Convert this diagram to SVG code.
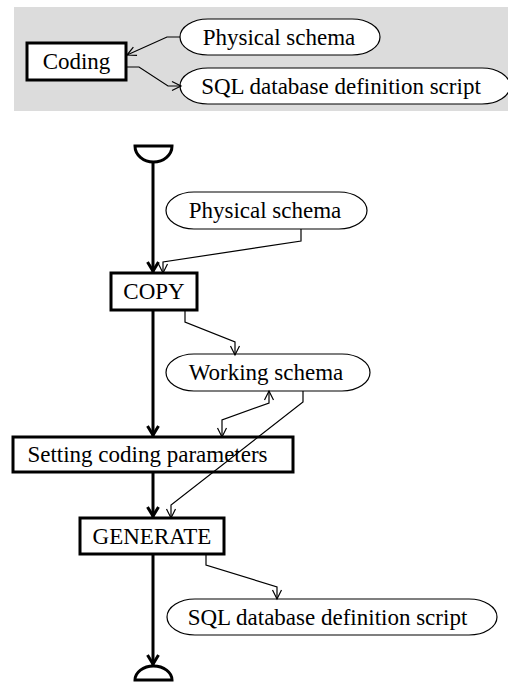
<svg xmlns="http://www.w3.org/2000/svg" width="508" height="682" viewBox="0 0 508 682">
<style>
text{font-family:"Liberation Serif","Times New Roman",serif;font-size:23px;fill:#000}
.box{fill:#fff;stroke:#000;stroke-width:3}
.ell{fill:#fff;stroke:#000;stroke-width:1.2}
.c{fill:none;stroke:#000;stroke-width:1.2;marker-end:url(#a)}
.flow{fill:none;stroke:#000;stroke-width:3;marker-end:url(#t)}
.sym{fill:#fff;stroke:#000;stroke-width:3}
</style>
<defs>
<marker id="a" markerWidth="14" markerHeight="14" refX="10" refY="6" orient="auto-start-reverse" markerUnits="userSpaceOnUse" viewBox="0 0 14 12">
<path d="M1,1.5 L10,6 L1,10.5" fill="none" stroke="#000" stroke-width="1.2"/>
</marker>
<marker id="t" markerWidth="16" markerHeight="16" refX="11" refY="7" orient="auto" markerUnits="userSpaceOnUse" viewBox="0 0 16 14">
<path d="M1,1.5 L10,7 L1,12.5" fill="none" stroke="#000" stroke-width="3"/>
</marker>
</defs>
<rect x="14" y="7" width="494" height="104" fill="#dcdcdc"/>
<g id="coding">
<rect class="box" x="27" y="43" width="99" height="37"/>
<text x="76.5" y="69" text-anchor="middle">Coding</text>
</g>
<g id="top-physical">
<rect class="ell" x="180" y="19" width="200" height="36" rx="28" ry="18"/>
<text x="279" y="44.5" text-anchor="middle">Physical schema</text>
</g>
<g id="top-sql">
<rect class="ell" x="180" y="68" width="330" height="36" rx="28" ry="18"/>
<text x="341" y="93.5" text-anchor="middle">SQL database definition script</text>
</g>
<g id="start">
<path class="sym" d="M135,146 H172 A18.5,16 0 0 1 135,146 Z"/>
</g>
<g id="physical">
<rect class="ell" x="166" y="192" width="201" height="37" rx="28" ry="18.5"/>
<text x="265" y="218" text-anchor="middle">Physical schema</text>
</g>
<g id="copy">
<rect class="box" x="111" y="273" width="86" height="37"/>
<text x="154" y="299" text-anchor="middle">COPY</text>
</g>
<g id="working">
<rect class="ell" x="166" y="354" width="204" height="37" rx="28" ry="18.5"/>
<text x="266" y="380" text-anchor="middle">Working schema</text>
</g>
<g id="setting">
<rect class="box" x="13" y="437" width="280" height="35"/>
<text x="147.5" y="462" text-anchor="middle">Setting coding parameters</text>
</g>
<g id="generate">
<rect class="box" x="80" y="518" width="144" height="36"/>
<text x="152" y="544" text-anchor="middle">GENERATE</text>
</g>
<g id="sql">
<rect class="ell" x="167" y="599" width="330" height="36" rx="28" ry="18"/>
<text x="327.5" y="625" text-anchor="middle">SQL database definition script</text>
</g>
<g id="end">
<path class="sym" d="M135,680 A18.5,14 0 0 1 172,680 Z"/>
</g>
<g id="connectors">
<path class="c" d="M180,37 H167 L127,55"/>
<path class="c" d="M127,67 H139 L168,86 H181"/>
<path class="flow" d="M153,162 V272"/>
<path class="flow" d="M153,310 V436"/>
<path class="flow" d="M153,472 V517"/>
<path class="flow" d="M153,555 V665"/>
<path class="c" d="M301,229 V241 L163,262 V273"/>
<path class="c" d="M185,310 V322 L235,342 V355"/>
<path class="c" style="marker-start:url(#a)" d="M269,391 V403 L222,420 V437"/>
<path class="c" d="M303,391 V402 L171,505 V518"/>
<path class="c" d="M206,555 V565 L277,587 V599"/>
</g>
</svg>
